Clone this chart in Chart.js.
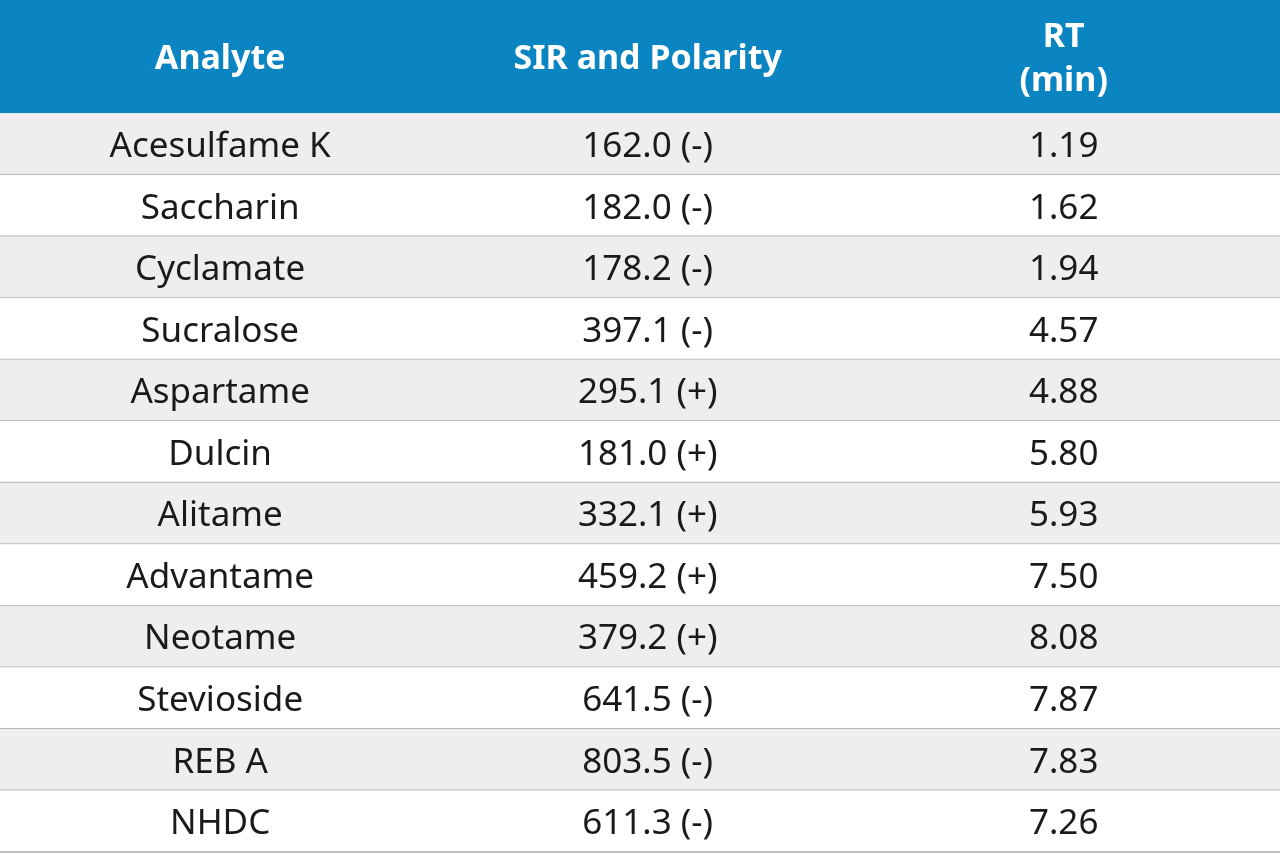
<!DOCTYPE html>
<html><head><meta charset="utf-8">
<script src="https://cdn.jsdelivr.net/npm/chart.js@4/dist/chart.umd.min.js"></script>
<style>html,body{margin:0;padding:0;background:#fff}#wrap{width:1280px;height:855px}</style>
</head><body><div id="wrap"><canvas id="c"></canvas></div>
<script>
const headers = [["Analyte"], ["SIR and Polarity"], ["RT", "(min)"]];
const analytes = ["Acesulfame K","Saccharin","Cyclamate","Sucralose","Aspartame","Dulcin","Alitame","Advantame","Neotame","Stevioside","REB A","NHDC"];
const sir = ["162.0 (-)","182.0 (-)","178.2 (-)","397.1 (-)","295.1 (+)","181.0 (+)","332.1 (+)","459.2 (+)","379.2 (+)","641.5 (-)","803.5 (-)","611.3 (-)"];
const rt = ["1.19","1.62","1.94","4.57","4.88","5.80","5.93","7.50","8.08","7.87","7.83","7.26"];
const colCenters = [17.2, 50.6, 83.1];
const headerRows = 1.84;

const tablePlugin = {
  id: 'table',
  beforeDatasetsDraw(chart) {
    const ctx = chart.ctx, xs = chart.scales.x, ys = chart.scales.y;
    const L = xs.getPixelForValue(0), R = xs.getPixelForValue(100);
    ctx.save();
    const hTop = ys.getPixelForValue(-headerRows), hBot = ys.getPixelForValue(0);
    ctx.fillStyle = '#0b84c2';
    ctx.fillRect(L, hTop, R - L, hBot - hTop);
    ctx.fillStyle = '#fff';
    ctx.font = 'bold 34px "Noto Sans", sans-serif';
    ctx.textAlign = 'center'; ctx.textBaseline = 'middle';
    headers.forEach((lines, c) => {
      const x = xs.getPixelForValue(colCenters[c]);
      const mid = (hTop + hBot) / 2 + 3;
      lines.forEach((t, k) => {
        const y = mid + (k - (lines.length - 1) / 2) * 44;
        ctx.fillText(t, x, y);
      });
    });
    const cols = [analytes, sir, rt];
    analytes.forEach((a, i) => {
      const top = ys.getPixelForValue(i), bot = ys.getPixelForValue(i + 1);
      ctx.fillStyle = i % 2 === 0 ? '#efeeee' : '#ffffff';
      ctx.fillRect(L, top, R - L, bot - top);
      ctx.strokeStyle = '#a8a8a8'; ctx.lineWidth = 1.5;
      ctx.beginPath(); ctx.moveTo(L, bot); ctx.lineTo(R, bot); ctx.stroke();
      ctx.fillStyle = '#1a1a1a';
      ctx.font = '35px "Noto Sans", sans-serif';
      cols.forEach((arr, c) => {
        ctx.fillText(arr[i], xs.getPixelForValue(colCenters[c]), (top + bot) / 2 + 3);
      });
    });
    ctx.restore();
  }
};

new Chart(document.getElementById('c'), {
  type: 'scatter',
  data: { datasets: [{ data: [], pointRadius: 0 }] },
  options: {
    responsive: true, maintainAspectRatio: false, animation: false,
    layout: { padding: 0 },
    plugins: { legend: { display: false }, tooltip: { enabled: false } },
    scales: {
      x: { type: 'linear', min: 0, max: 100, display: false },
      y: { type: 'linear', min: -headerRows, max: 12.05, reverse: true, display: false }
    }
  },
  plugins: [tablePlugin]
});
</script></body></html>
